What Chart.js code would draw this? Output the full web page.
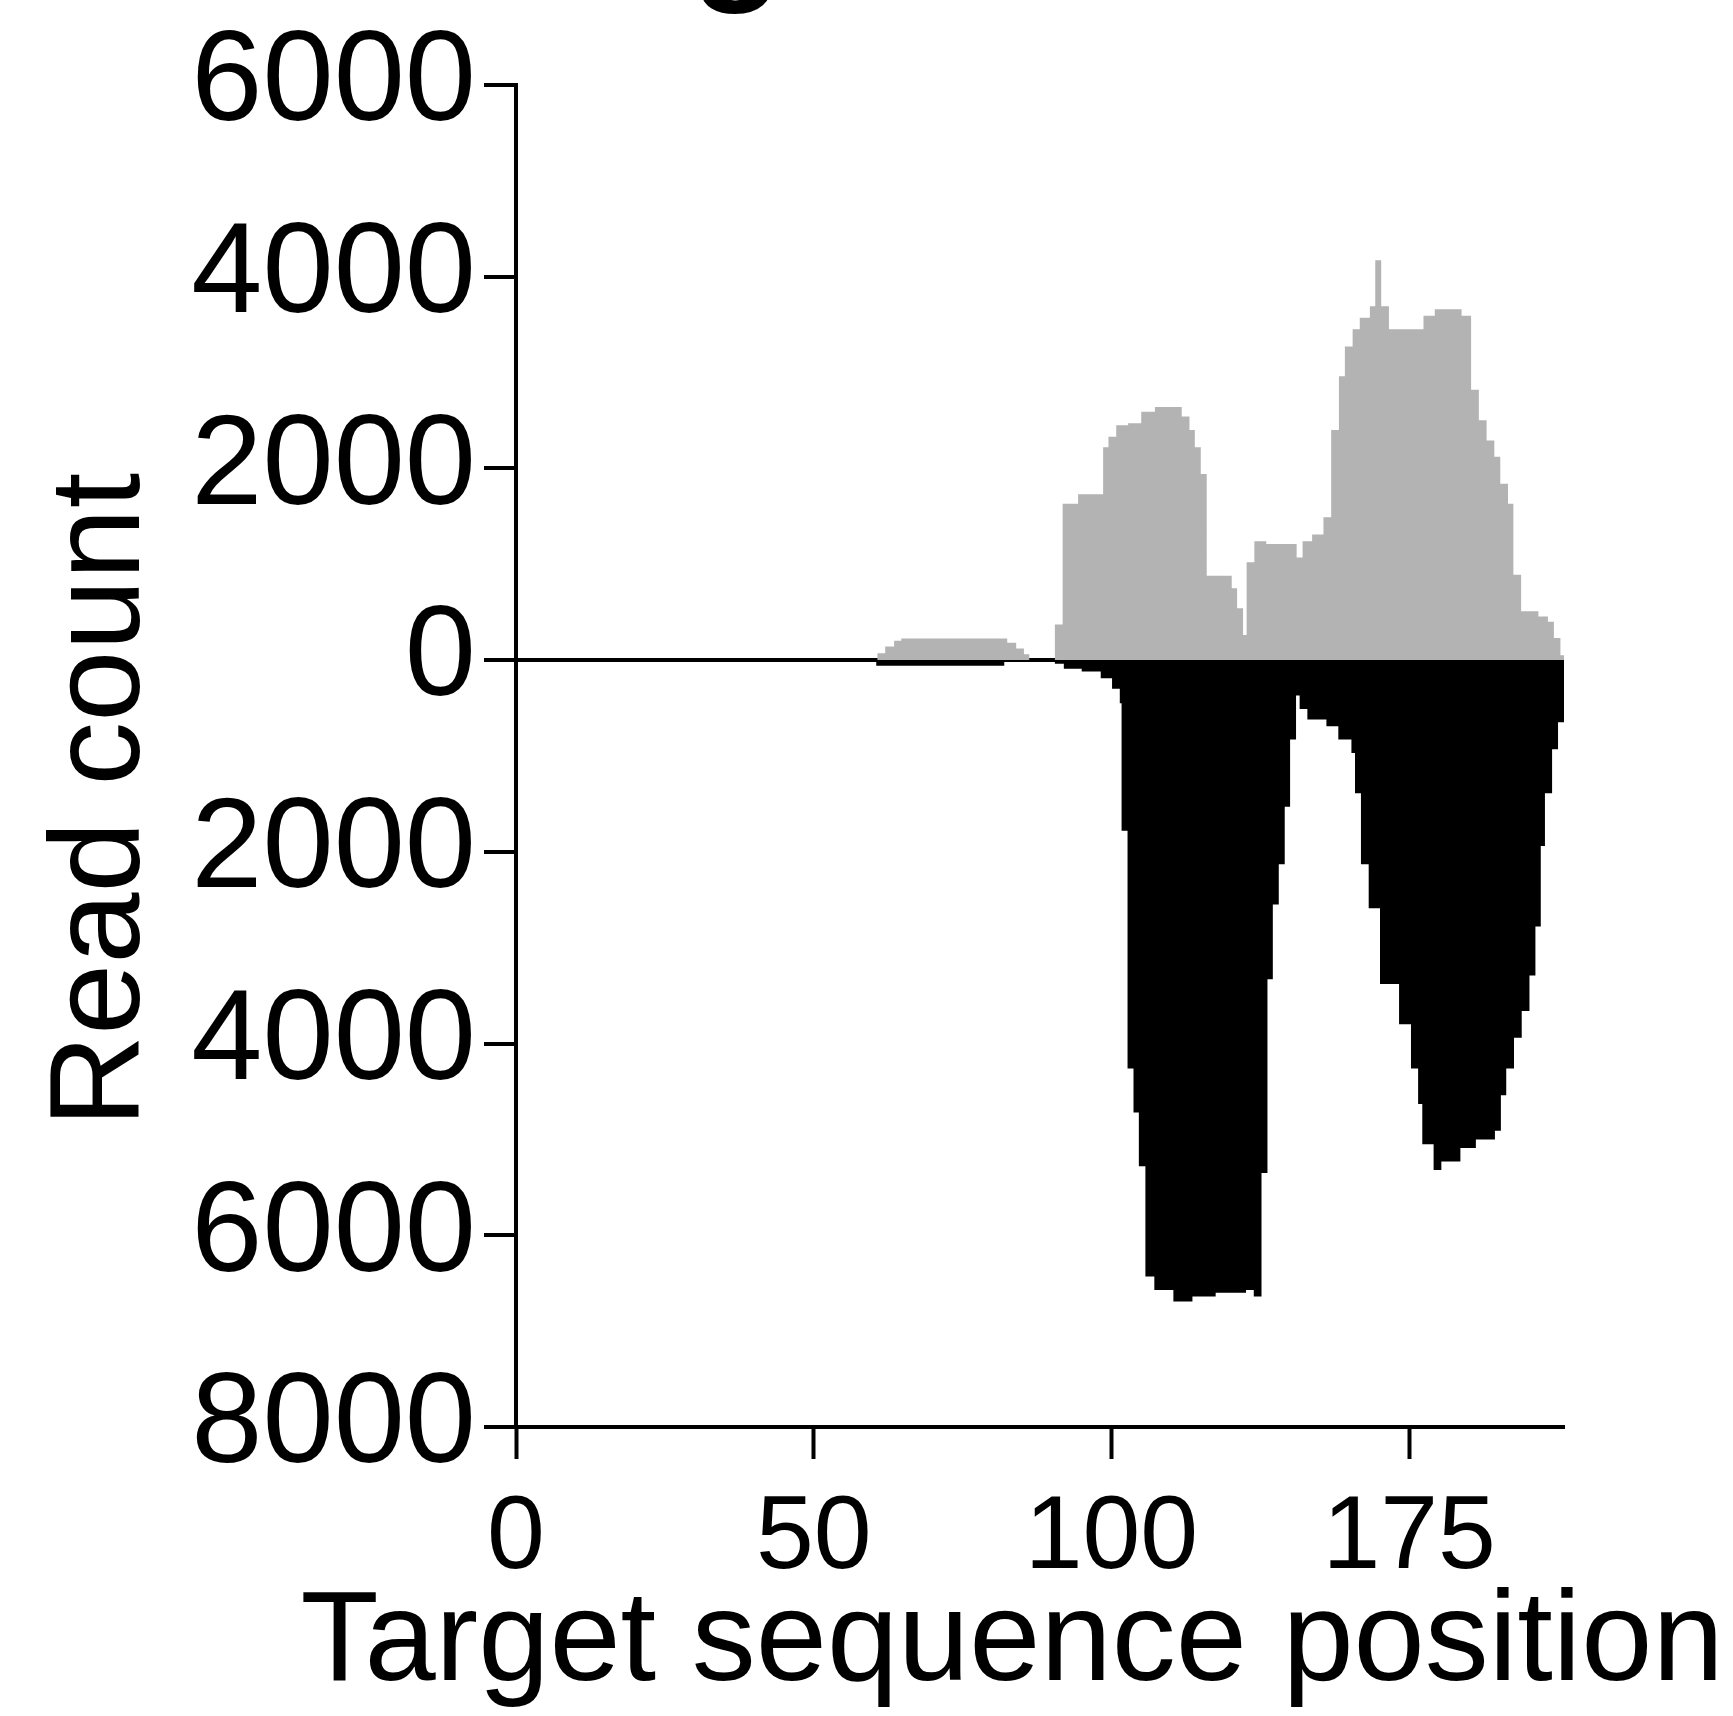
<!DOCTYPE html>
<html>
<head>
<meta charset="utf-8">
<title>Read count by target sequence position</title>
<script src="https://cdn.jsdelivr.net/npm/chart.js@4.4.1/dist/chart.umd.min.js"></script>
<style>
    html, body { margin: 0; padding: 0; background: #fff; }
    #wrap { width: 1733px; height: 1716px; }
</style>
</head>
<body>
<div id="wrap"><canvas id="readChart" width="1733" height="1716"></canvas></div>
<script>
// Forward reads (grey, above zero) - step positions and counts
const forwardPos = [0, 60.7, 62, 63.5, 64.7, 82.5, 84, 85.3, 86.2, 90.5, 91.8, 94.4, 98.6, 99.5, 100.8,
    102.8, 105.0, 107.3, 111.8, 113.1, 114.0, 115.0, 116.0, 120.2, 121.1, 122.1, 122.7, 124.0, 126.0,
    131.1, 132.1, 133.7, 135.6, 136.9, 138.2, 139.2, 140.5, 141.7, 143.4, 144.3, 145.3, 146.6, 152.4,
    154.3, 158.8, 160.4, 161.7, 163.0, 164.3, 165.3, 166.6, 167.5, 168.8, 171.7, 173.3, 174.3, 175.4, 176];
const forwardReads = [0, 70, 140, 200, 225, 180, 120, 60, 0, 370, 1630, 1730, 2220, 2330, 2450,
    2470, 2590, 2640, 2540, 2400, 2220, 1940, 880, 750, 540, 260, 1020, 1240, 1210,
    1070, 1240, 1310, 1490, 2400, 2960, 3270, 3450, 3570, 3690, 4170, 3690, 3450, 3590,
    3660, 3590, 2820, 2500, 2290, 2120, 1840, 1630, 890, 510, 455, 400, 230, 50, 0];

// Reverse reads (black, drawn below zero)
const reversePos = [0, 60.5, 82, 90.5, 92, 95, 98.2, 100.1, 101.4, 101.7, 102.7, 103.7, 104.6, 105.7,
    107.2, 110.4, 113.6, 117.5, 122.6, 123.9, 125.2, 126.2, 127.1, 128.1, 129.1, 130.0, 131.0, 131.6,
    132.9, 136.1, 138.1, 140.3, 140.9, 141.9, 143.2, 145.1, 148.3, 150.3, 151.5, 152.2, 154.1, 155.4,
    158.6, 161.2, 164.4, 165.4, 166.3, 167.6, 168.9, 170.2, 171.2, 172.1, 172.8, 174.0, 175.0, 176];
const reverseReads = [0, 60, 0, 40, 90, 120, 190, 300, 450, 1780, 4260, 4720, 5280, 6430,
    6570, 6690, 6640, 6600, 6570, 6640, 5350, 3330, 2550, 2130, 1530, 830, 370, 510,
    620, 690, 830, 970, 1390, 2130, 2590, 3380, 3800, 4260, 4630, 5050, 5320, 5230,
    5090, 5000, 4910, 4540, 4260, 3940, 3660, 3290, 2780, 1940, 1390, 930, 650, 650];

// Axis ticks
const xTickValues = [0, 50, 100, 150];
const xTickLabels = ['0', '50', '100', '175'];
const yTickValues = [-8000, -6000, -4000, -2000, 0, 2000, 4000, 6000];

const FONT = '"Liberation Sans", Arial, Helvetica, sans-serif';
const LINE = 4;

// Axis titles and panel letter are drawn as plain canvas text
const textPlugin = {
    id: 'axisText',
    afterDraw(chart) {
        const ctx = chart.ctx;
        ctx.save();
        ctx.fillStyle = '#000';
        ctx.textBaseline = 'alphabetic';
        ctx.textAlign = 'center';

        ctx.font = 'bold 150px ' + FONT;
        ctx.fillText('g', 737, -18);

        ctx.font = '128px ' + FONT;
        ctx.fillText('Target sequence position', 1012, 1680);

        ctx.translate(139, 800);
        ctx.rotate(-Math.PI / 2);
        ctx.fillText('Read count', 0, 0);
        ctx.restore();
    }
};

function toPoints(xs, ys, sign) {
    return xs.map((x, i) => ({ x: x, y: sign * ys[i] }));
}

const ctx = document.getElementById('readChart').getContext('2d');
new Chart(ctx, {
    type: 'line',
    data: {
        datasets: [
            {
                label: 'Forward',
                data: toPoints(forwardPos, forwardReads, 1),
                stepped: true,
                fill: 'origin',
                backgroundColor: '#b3b3b3',
                borderWidth: 0,
                pointRadius: 0
            },
            {
                label: 'Reverse',
                data: toPoints(reversePos, reverseReads, -1),
                stepped: true,
                fill: 'origin',
                backgroundColor: '#000000',
                borderWidth: 0,
                pointRadius: 0
            }
        ]
    },
    options: {
        responsive: false,
        animation: false,
        layout: {
            padding: { top: 81, right: 169, bottom: 0, left: 0 }
        },
        plugins: {
            legend: { display: false },
            tooltip: { enabled: false }
        },
        scales: {
            x: {
                type: 'linear',
                min: 0,
                max: 176,
                afterBuildTicks: (scale) => {
                    scale.ticks = xTickValues.map(v => ({ value: v }));
                },
                afterFit: (scale) => { scale.height = 289; },
                ticks: {
                    color: '#000',
                    font: { family: FONT, size: 104 },
                    padding: 18,
                    maxRotation: 0,
                    callback: (value) => xTickLabels[xTickValues.indexOf(value)]
                },
                grid: {
                    drawOnChartArea: false,
                    drawTicks: true,
                    tickLength: 32,
                    tickWidth: LINE,
                    tickColor: '#000'
                },
                border: { display: true, color: '#000', width: LINE }
            },
            y: {
                min: -8000,
                max: 6000,
                z: 1,
                afterBuildTicks: (scale) => {
                    scale.ticks = yTickValues.map(v => ({ value: v }));
                },
                afterFit: (scale) => { scale.width = 516; },
                ticks: {
                    color: '#000',
                    font: { family: FONT, size: 128 },
                    padding: 8,
                    callback: (value) => String(Math.abs(value))
                },
                grid: {
                    drawOnChartArea: true,
                    color: (c) => (c.tick && c.tick.value === 0 ? '#000' : 'rgba(0,0,0,0)'),
                    lineWidth: LINE,
                    drawTicks: true,
                    tickLength: 32,
                    tickWidth: LINE,
                    tickColor: '#000'
                },
                border: { display: true, color: '#000', width: LINE }
            }
        }
    },
    plugins: [textPlugin]
});
</script>
</body>
</html>
